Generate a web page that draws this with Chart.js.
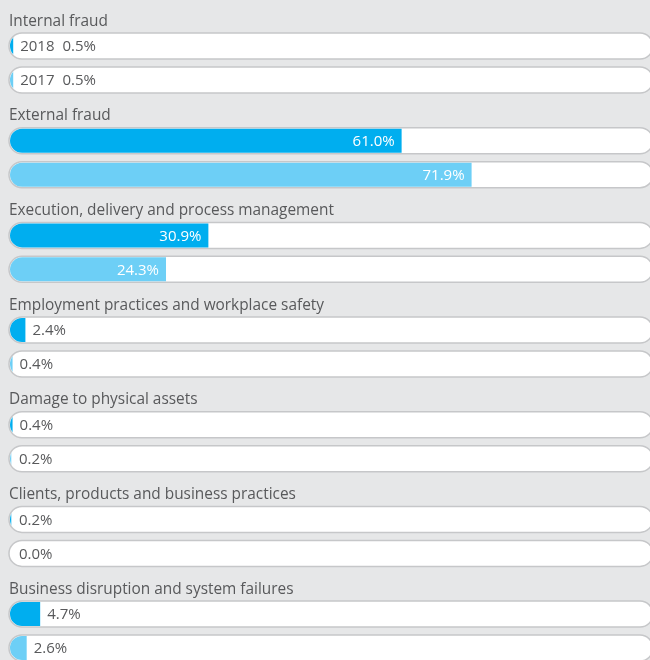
<!DOCTYPE html>
<html>
<head>
<meta charset="utf-8">
<script src="https://cdn.jsdelivr.net/npm/chart.js@4.4.1/dist/chart.umd.min.js"></script>
<style>
  html, body { margin: 0; padding: 0; background: #e6e7e8; overflow: hidden; width: 650px; height: 660px; }
  #wrap { position: absolute; left: 0; top: 0; }
</style>
</head>
<body>
<div id="wrap"><canvas id="riskChart" width="672" height="700"></canvas></div>
<script>
const categories = [
    'Internal fraud',
    'External fraud',
    'Execution, delivery and process management',
    'Employment practices and workplace safety',
    'Damage to physical assets',
    'Clients, products and business practices',
    'Business disruption and system failures'
];
const years = ['2018', '2017'];
const values2018 = [0.5, 61.0, 30.9, 2.4, 0.4, 0.2, 4.7];
const values2017 = [0.5, 71.9, 24.3, 0.4, 0.2, 0.0, 2.6];
const scaleMax = 100;

const textColor = '#58595b';
const trackBorder = '#c6c7c9';
const fontFamily = '"Open Sans", sans-serif';

function addTrack(ctx, x0, x1, y, h) {
    const r = h / 2;
    ctx.moveTo(x0 + r, y - r);
    ctx.lineTo(x1 - r, y - r);
    ctx.arc(x1 - r, y, r, -Math.PI / 2, Math.PI / 2);
    ctx.lineTo(x0 + r, y + r);
    ctx.arc(x0 + r, y, r, Math.PI / 2, Math.PI * 1.5);
    ctx.closePath();
}

function trackEnds(chart) {
    const xs = chart.scales.x;
    return [xs.getPixelForValue(0), xs.getPixelForValue(scaleMax)];
}

// white rounded tracks behind each bar, fills clipped to them
const trackPlugin = {
    id: 'tracks',
    beforeDatasetsDraw(chart) {
        const ctx = chart.ctx;
        const [x0, x1] = trackEnds(chart);
        ctx.save();
        chart.data.datasets.forEach((ds, i) => {
            chart.getDatasetMeta(i).data.forEach(bar => {
                const p = bar.getProps(['y', 'height'], true);
                ctx.beginPath();
                addTrack(ctx, x0 - 1, x1 + 1, p.y, p.height);
                ctx.fillStyle = '#ffffff';
                ctx.fill();
                ctx.lineWidth = 1.5;
                ctx.strokeStyle = trackBorder;
                ctx.stroke();
            });
        });
        ctx.restore();
    },
    beforeDatasetDraw(chart, args) {
        const ctx = chart.ctx;
        const [x0, x1] = trackEnds(chart);
        ctx.save();
        ctx.beginPath();
        args.meta.data.forEach(bar => {
            const p = bar.getProps(['y', 'height'], true);
            addTrack(ctx, x0, x1, p.y, p.height - 2);
        });
        ctx.clip();
    },
    afterDatasetDraw(chart) {
        chart.ctx.restore();
    },
    afterDatasetsDraw(chart) {
        const ctx = chart.ctx;
        ctx.save();
        ctx.font = '15px ' + fontFamily;
        ctx.textBaseline = 'middle';
        chart.data.datasets.forEach((ds, i) => {
            chart.getDatasetMeta(i).data.forEach((bar, j) => {
                const p = bar.getProps(['x', 'y', 'height'], true);
                const v = ds.data[j];
                const txt = v.toFixed(1) + '%';
                const ty = p.y + 1;
                if (v >= 10) {
                    ctx.fillStyle = '#ffffff';
                    ctx.textAlign = 'right';
                    ctx.fillText(txt, p.x - 7, ty);
                } else {
                    ctx.fillStyle = textColor;
                    ctx.textAlign = 'left';
                    let tx = Math.max(p.x, 12) + 7;
                    if (j === 0) {
                        ctx.fillText(ds.label, tx, ty);
                        tx += ctx.measureText(ds.label).width + 8;
                    }
                    ctx.fillText(txt, tx, ty);
                }
            });
        });
        // category titles above each pair of bars
        ctx.font = '15.4px ' + fontFamily;
        ctx.fillStyle = textColor;
        ctx.textAlign = 'left';
        ctx.textBaseline = 'alphabetic';
        const first = chart.getDatasetMeta(0).data;
        categories.forEach((c, j) => {
            const p = first[j].getProps(['y', 'height'], true);
            ctx.fillText(c, 9, p.y - 20.5);
        });
        ctx.restore();
    }
};

new Chart(document.getElementById('riskChart'), {
    type: 'bar',
    data: {
        labels: categories,
        datasets: [
            { label: years[0], data: values2018, backgroundColor: '#00aeef', borderWidth: 0 },
            { label: years[1], data: values2017, backgroundColor: '#6dcff6', borderWidth: 0 }
        ]
    },
    options: {
        indexAxis: 'y',
        responsive: false,
        animation: false,
        categoryPercentage: 0.718,
        barPercentage: 0.765,
        layout: { padding: { left: 10, right: 20, top: 15.7, bottom: 21.6 } },
        scales: {
            x: { display: false, min: 0, max: scaleMax },
            y: { display: false }
        },
        plugins: {
            legend: { display: false },
            tooltip: { enabled: false }
        }
    },
    plugins: [trackPlugin]
});
</script>
</body>
</html>
